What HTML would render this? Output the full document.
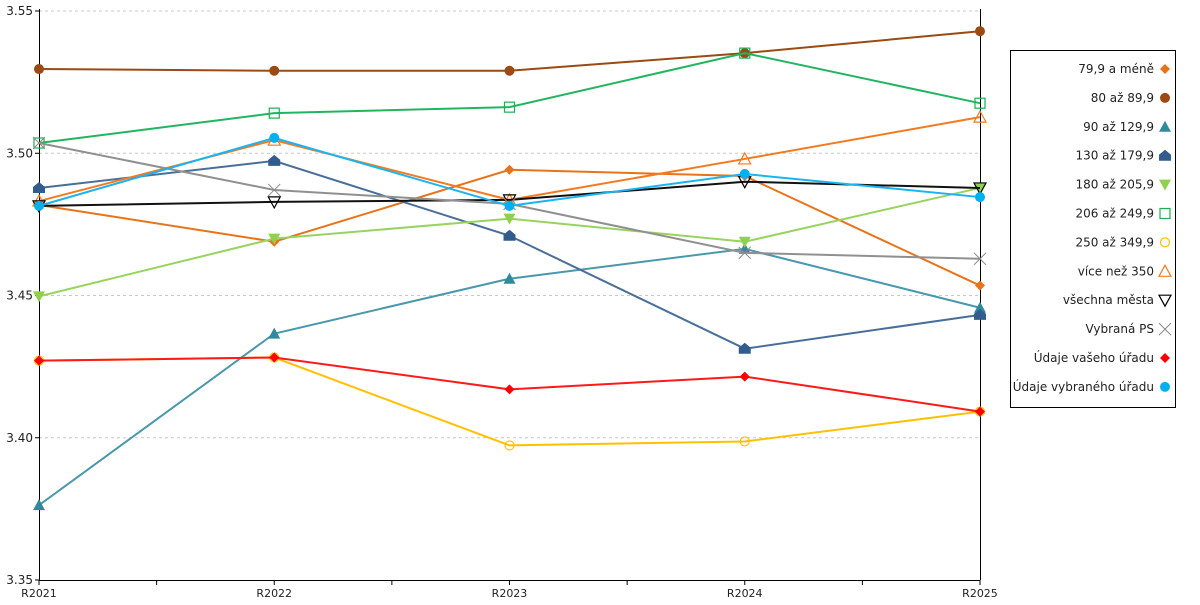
<!DOCTYPE html>
<html><head><meta charset="utf-8"><style>
body{margin:0;background:#fff;font-family:"Liberation Sans","DejaVu Sans",sans-serif;}
svg text{font-family:"DejaVu Sans","Liberation Sans",sans-serif;font-size:11px;fill:#222;}
svg text.lg{font-size:12px;}
</style></head><body>
<svg id="chart" width="1200" height="600" xmlns="http://www.w3.org/2000/svg"></svg>
<script>
const categories=["R2021","R2022","R2023","R2024","R2025"];
const yTicks=[3.35,3.40,3.45,3.50,3.55];
const seriesNames=["79,9 a méně","80 až 89,9","90 až 129,9","130 až 179,9","180 až 205,9","206 až 249,9","250 až 349,9","více než 350","všechna města","Vybraná PS","Údaje vašeho úřadu","Údaje vybraného úřadu"];
const s0=[3.4818,3.4689,3.4942,3.4920,3.4535];
const s1=[3.5296,3.5290,3.5290,3.5352,3.5429];
const s2=[3.3763,3.4366,3.4559,3.4664,3.4457];
const s3=[3.4878,3.4973,3.4710,3.4313,3.4432];
const s4=[3.4497,3.4700,3.4770,3.4689,3.4878];
const s5=[3.5036,3.5141,3.5162,3.5352,3.5176];
const s6=[3.4271,3.4282,3.3973,3.3987,3.4092];
const s7=[3.4832,3.5046,3.4836,3.4980,3.5127];
const s8=[3.4815,3.4829,3.4836,3.4900,3.4878];
const s9=[3.5036,3.4871,3.4822,3.4650,3.4629];
const s10=[3.4271,3.4282,3.4170,3.4215,3.4092];
const s11=[3.4815,3.5054,3.4815,3.4927,3.4846];
const seriesValues=[s0,s1,s2,s3,s4,s5,s6,s7,s8,s9,s10,s11];
const colors=["#e8731a","#9a4a12","#318a9c","#335c8e","#8fd14f","#16b152","#ffc000","#f47a20","#000000","#888888","#ff0000","#00b0f0"];
const lineColors=["#e8731a","#9a4a12","#4a98aa","#4a6e9a","#99d35f","#22b560","#ffc000","#f47a20","#111111","#909090","#ff1a1a","#1ab4ef"];
const markers=["diamond","circle","triangle","house","tridown","square","ocircle","otriangle","otridown","cross","diamond","circle"];
const X0=39,X1=980,Y0=580,Y1=11,VMIN=3.35,VMAX=3.55;
const xS=i=>X0+i*(X1-X0)/(categories.length-1);
const yS=v=>Y0-(v-VMIN)/(VMAX-VMIN)*(Y0-Y1);
const svg=document.getElementById('chart');
const NS="http://www.w3.org/2000/svg";
function mk(t,a,p){const e=document.createElementNS(NS,t);for(const k in a)e.setAttribute(k,a[k]);(p||svg).appendChild(e);return e;}
yTicks.forEach(v=>{
 if(v>VMIN){const g=mk('line',{x1:X0,x2:X1,y1:yS(v),y2:yS(v),stroke:'#c8c8c8','stroke-dasharray':'3,3'});
 
 }
 const t=mk('text',{x:X0-6,y:yS(v)+4,'text-anchor':'end',class:'lg'});t.textContent=v.toFixed(2);
 
 
 mk('line',{x1:X0-4,x2:X0,y1:yS(v),y2:yS(v),stroke:'#000'});
});
const ya=mk('line',{x1:X0+0.5,x2:X0+0.5,y1:Y1-2,y2:Y0,stroke:'#000'});


const ya2=mk('line',{x1:X1+0.5,x2:X1+0.5,y1:Y1-2,y2:Y0,stroke:'#000'});


const xa=mk('line',{x1:X0,x2:X1,y1:Y0+0.5,y2:Y0+0.5,stroke:'#000'});


categories.forEach((c,i)=>{
 mk('line',{x1:xS(i),x2:xS(i),y1:Y0,y2:Y0+5,stroke:'#000'});
 if(i<categories.length-1){const m=(xS(i)+xS(i+1))/2;mk('line',{x1:m,x2:m,y1:Y0,y2:Y0+5,stroke:'#000'});}
 const t=mk('text',{x:xS(i),y:597,'text-anchor':'middle'});t.textContent=c;
 
 
});
function marker(type,x,y,c,p){
 const r=5;
 switch(type){
  case 'diamond':return mk('polygon',{points:`${x},${y-r} ${x+r},${y} ${x},${y+r} ${x-r},${y}`,fill:c},p);
  case 'circle':return mk('circle',{cx:x,cy:y,r:5,fill:c},p);
  case 'triangle':return mk('polygon',{points:`${x},${y-6} ${x+6},${y+5} ${x-6},${y+5}`,fill:c},p);
  case 'house':return mk('polygon',{points:`${x},${y-6} ${x+6},${y-1} ${x+6},${y+5} ${x-6},${y+5} ${x-6},${y-1}`,fill:c},p);
  case 'tridown':return mk('polygon',{points:`${x-6},${y-5} ${x+6},${y-5} ${x},${y+6}`,fill:c},p);
  case 'square':return mk('rect',{x:x-5,y:y-5,width:10,height:10,fill:'#fff','fill-opacity':0,stroke:c,'stroke-width':1.2},p);
  case 'ocircle':return mk('circle',{cx:x,cy:y,r:4.5,fill:'none',stroke:c,'stroke-width':1.2},p);
  case 'otriangle':return mk('polygon',{points:`${x},${y-6} ${x+6},${y+5} ${x-6},${y+5}`,fill:'none',stroke:c,'stroke-width':1.2},p);
  case 'otridown':return mk('polygon',{points:`${x-6},${y-5} ${x+6},${y-5} ${x},${y+6}`,fill:'none',stroke:c,'stroke-width':1.2},p);
  case 'cross':{const g=mk('g',{stroke:c,'stroke-width':1},p);mk('line',{x1:x-6,y1:y-6,x2:x+6,y2:y+6},g);mk('line',{x1:x-6,y1:y+6,x2:x+6,y2:y-6},g);return g;}
 }
}
seriesValues.forEach((vals,si)=>{
 const g=mk('g',{});
 
 
 const pl=mk('polyline',{points:vals.map((v,i)=>xS(i)+','+yS(v)).join(' '),fill:'none',stroke:lineColors[si],'stroke-width':2},g);
 
 
 vals.forEach((v,i)=>{const m=marker(markers[si],xS(i),yS(v),colors[si],g);
  
  });
});
const lg=mk('g',{});


mk('rect',{x:1010.5,y:50.5,width:165,height:357,fill:'#fff',stroke:'#000'},lg);
seriesNames.forEach((n,i)=>{
 const y=69+i*28.9;
 const e=mk('g',{},lg);
 
 
 const t=mk('text',{x:1154,y:y+4,'text-anchor':'end',class:'lg'},e);t.textContent=n;
 marker(markers[i],1165,y,colors[i],e);
});
</script>
</body></html>
